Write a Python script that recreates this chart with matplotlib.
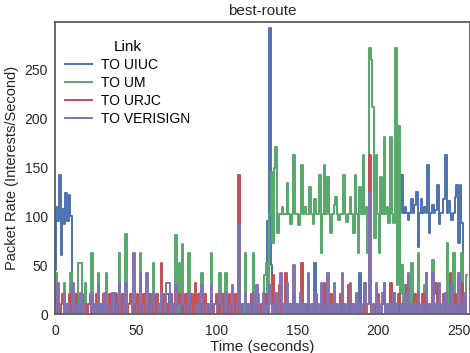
import matplotlib
matplotlib.use("Agg")
import matplotlib.pyplot as plt

## Packet rate per link, one sample per second
series_names = ["TO UIUC", "TO UM", "TO URJC", "TO VERISIGN"]
colors = ["#4C72B0", "#55A868", "#C44E52", "#8172B2"]

uiuc = [
    45, 110, 95, 142, 60, 108, 92, 124, 95, 122, 100, 0, 0, 0, 0, 0,
    0, 0, 0, 0, 0, 0, 0, 0, 0, 0, 0, 0, 0, 0, 0, 0,
    0, 0, 0, 0, 21, 21, 0, 0, 0, 0, 0, 0, 0, 0, 0, 0,
    0, 0, 0, 0, 0, 0, 0, 0, 0, 0, 0, 0, 0, 0, 0, 0,
    0, 0, 0, 0, 0, 20, 20, 10, 0, 0, 0, 0, 0, 0, 0, 0,
    0, 0, 0, 0, 0, 0, 0, 0, 0, 0, 0, 0, 0, 0, 0, 0,
    0, 0, 0, 0, 0, 0, 0, 0, 0, 0, 0, 0, 0, 0, 0, 0,
    0, 0, 0, 0, 0, 0, 0, 0, 0, 0, 0, 0, 0, 0, 0, 0,
    0, 0, 0, 10, 95, 293, 50, 0, 0, 0, 0, 0, 0, 0, 0, 0,
    0, 0, 0, 0, 0, 0, 0, 0, 0, 10, 0, 0, 0, 0, 0, 0,
    0, 52, 0, 0, 0, 0, 0, 0, 0, 0, 0, 0, 0, 0, 0, 0,
    0, 0, 0, 0, 0, 0, 0, 0, 0, 0, 0, 0, 0, 42, 0, 0,
    32, 0, 0, 0, 0, 0, 0, 0, 0, 0, 0, 0, 0, 0, 0, 0,
    20, 0, 22, 0, 0, 0, 103, 142, 103, 110, 103, 96, 103, 118, 103, 112,
    125, 69, 103, 118, 103, 110, 103, 153, 83, 103, 112, 103, 106, 132, 92, 103,
    103, 118, 163, 103, 116, 103, 96, 103, 120, 132, 73, 132, 93, 0, 0, 0,
]

um = [
    0, 42, 0, 0, 0, 0, 32, 0, 0, 0, 42, 0, 0, 0, 0, 52,
    52, 0, 0, 32, 0, 0, 0, 62, 0, 0, 0, 42, 0, 0, 0, 0,
    42, 0, 0, 0, 22, 0, 0, 0, 62, 0, 0, 0, 82, 0, 0, 0,
    0, 0, 0, 0, 0, 62, 0, 0, 0, 0, 0, 0, 0, 52, 0, 0,
    0, 0, 0, 0, 0, 0, 0, 0, 0, 0, 0, 81, 0, 52, 0, 72,
    0, 0, 0, 62, 0, 0, 0, 0, 0, 0, 0, 42, 0, 0, 0, 0,
    0, 62, 0, 0, 0, 0, 42, 0, 0, 0, 42, 0, 0, 0, 0, 0,
    0, 0, 0, 0, 0, 0, 62, 0, 0, 0, 0, 62, 0, 0, 20, 0,
    0, 0, 40, 52, 20, 102, 145, 73, 150, 171, 83, 102, 102, 110, 102, 102,
    134, 102, 92, 102, 163, 102, 102, 91, 102, 153, 102, 110, 102, 102, 130, 102,
    92, 118, 102, 102, 142, 62, 102, 153, 102, 140, 102, 83, 102, 112, 120, 102,
    96, 102, 102, 142, 102, 94, 102, 120, 102, 83, 142, 102, 62, 130, 102, 163,
    102, 110, 62, 272, 260, 212, 78, 163, 102, 62, 140, 102, 181, 102, 110, 93,
    181, 102, 93, 272, 30, 192, 20, 50, 10, 30, 0, 0, 0, 52, 0, 0,
    0, 62, 0, 0, 0, 30, 0, 0, 0, 0, 55, 0, 0, 0, 30, 0,
    0, 0, 0, 73, 0, 0, 0, 62, 0, 0, 0, 0, 62, 0, 0, 40,
]

urjc = [
    20, 0, 10, 0, 10, 20, 0, 10, 0, 20, 0, 10, 0, 20, 0, 10,
    0, 20, 0, 10, 0, 10, 20, 0, 10, 0, 20, 0, 10, 0, 20, 0,
    10, 0, 20, 0, 10, 0, 20, 0, 10, 0, 20, 0, 10, 0, 10, 20,
    0, 10, 0, 20, 0, 10, 0, 20, 0, 10, 0, 20, 0, 10, 0, 20,
    0, 10, 52, 0, 20, 0, 10, 0, 20, 0, 10, 0, 10, 20, 0, 10,
    0, 20, 0, 10, 0, 20, 0, 32, 0, 20, 0, 10, 0, 20, 0, 10,
    0, 20, 0, 10, 20, 0, 10, 0, 20, 0, 10, 0, 20, 0, 10, 0,
    20, 0, 142, 0, 10, 0, 0, 10, 0, 0, 20, 0, 0, 10, 0, 0,
    10, 0, 20, 0, 10, 0, 0, 40, 0, 10, 0, 30, 0, 0, 10, 42,
    0, 10, 0, 0, 20, 0, 10, 0, 0, 52, 0, 10, 0, 32, 0, 0,
    10, 0, 20, 0, 0, 10, 0, 32, 0, 10, 0, 20, 0, 0, 10, 0,
    0, 20, 0, 10, 0, 0, 30, 0, 10, 0, 0, 20, 0, 10, 0, 0,
    20, 0, 10, 163, 0, 0, 10, 0, 20, 0, 0, 10, 32, 0, 0, 10,
    32, 0, 0, 10, 0, 20, 0, 10, 0, 0, 30, 0, 10, 0, 0, 20,
    0, 10, 0, 0, 20, 0, 42, 0, 10, 0, 0, 20, 32, 0, 10, 0,
    0, 20, 0, 10, 0, 42, 0, 0, 20, 0, 10, 0, 32, 0, 10, 0,
]

verisign = [
    0, 10, 32, 0, 0, 0, 22, 0, 10, 0, 0, 32, 0, 0, 10, 0,
    22, 0, 10, 0, 0, 0, 0, 22, 0, 10, 0, 30, 0, 10, 0, 22,
    0, 10, 0, 0, 22, 0, 0, 10, 32, 0, 0, 10, 32, 0, 0, 0,
    10, 62, 10, 0, 0, 42, 10, 0, 0, 42, 0, 0, 10, 22, 0, 0,
    10, 0, 22, 10, 0, 32, 32, 32, 0, 10, 0, 30, 0, 0, 10, 22,
    10, 0, 0, 22, 10, 0, 0, 0, 10, 0, 22, 30, 0, 0, 10, 0,
    0, 30, 10, 0, 0, 10, 22, 10, 0, 0, 22, 0, 0, 10, 30, 0,
    0, 10, 91, 0, 0, 10, 22, 0, 10, 0, 0, 22, 0, 30, 10, 0,
    0, 22, 0, 10, 0, 30, 10, 0, 10, 22, 0, 10, 42, 0, 10, 0,
    32, 0, 10, 0, 50, 0, 10, 0, 22, 0, 10, 0, 10, 42, 0, 10,
    0, 22, 0, 10, 0, 32, 0, 10, 0, 42, 0, 10, 0, 32, 0, 10,
    0, 10, 42, 0, 10, 0, 10, 32, 0, 10, 0, 22, 0, 10, 0, 10,
    30, 0, 10, 124, 10, 0, 10, 32, 0, 10, 0, 22, 32, 0, 10, 0,
    10, 0, 22, 0, 10, 0, 0, 10, 0, 22, 0, 42, 0, 10, 0, 10,
    0, 22, 0, 10, 0, 10, 42, 0, 10, 0, 42, 0, 10, 0, 32, 0,
    10, 0, 22, 0, 10, 0, 32, 0, 10, 0, 42, 0, 10, 0, 22, 0,
]

x_ticks = [0, 50, 100, 150, 200, 250]
y_ticks = [0, 50, 100, 150, 200, 250]

plt.rcParams['font.family'] = ['Liberation Sans', 'DejaVu Sans']

fig = plt.figure(figsize=(4.7, 3.53), dpi=100)
ax = fig.add_axes([55 / 470, 1 - 314 / 353, 415 / 470, 292 / 353])

for values, name, color in zip([uiuc, um, urjc, verisign], series_names, colors):
    ax.plot(range(len(values)), values, color=color, linewidth=1.4,
            drawstyle="steps-mid", label=name)

ax.set_xlim(0, 257)
ax.set_ylim(0, 299)
ax.set_xticks(x_ticks)
ax.set_yticks(y_ticks)
ax.tick_params(length=0, labelsize=10, colors="#262626", pad=5)
ax.tick_params(axis="x", pad=7)
for side in ["left", "bottom", "top", "right"]:
    ax.spines[side].set_color("#5f5f5f")
    ax.spines[side].set_linewidth(1.3)

ax.set_title("best-route", fontsize=11, color="#262626", pad=5)
ax.set_xlabel("Time (seconds)", fontsize=11, color="#262626", labelpad=2)
ax.set_ylabel("Packet Rate (Interests/Second)", fontsize=10.5, color="#262626", labelpad=4)

# legend sits just inside the upper-left corner, no frame
leg = ax.legend(loc="upper left", bbox_to_anchor=(0.011, 0.957), borderaxespad=0,
                frameon=False, title="Link", fontsize=10, title_fontsize=11,
                handlelength=1.9, handletextpad=0.65, labelspacing=0.28)

fig.savefig("out.png", dpi=100)
